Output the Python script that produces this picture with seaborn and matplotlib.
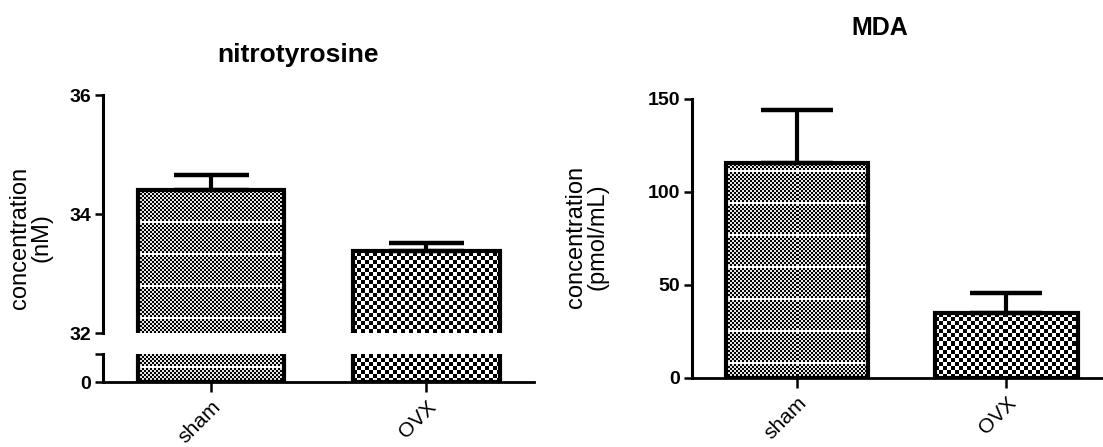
import numpy as np
import pandas as pd
import matplotlib
matplotlib.use("Agg")
import matplotlib.pyplot as plt
import seaborn as sns

# ---- data ----
groups = ["sham", "OVX"]
nitro_mean = [34.40, 33.38]
nitro_sem = [0.26, 0.13]
mda_mean = [115.5, 35.0]
mda_sem = [28.5, 10.7]
nitro_ticks_top = [32, 34, 36]
mda_ticks = [0, 50, 100, 150]

sns.set_style("white")
plt.rcParams["font.family"] = ["Liberation Sans", "DejaVu Sans"]
plt.rcParams["text.color"] = "black"
plt.rcParams["axes.labelcolor"] = "black"

DPI = 100
fig = plt.figure(figsize=(11.03, 4.47), dpi=DPI)
ax_top = fig.add_axes([0.0934, 0.2550, 0.3908, 0.5324])
ax_bot = fig.add_axes([0.0934, 0.1454, 0.3908, 0.0626])
ax_r = fig.add_axes([0.6274, 0.1544, 0.3799, 0.6242])

df_n = pd.DataFrame({"group": groups, "value": nitro_mean})
df_m = pd.DataFrame({"group": groups, "value": mda_mean})

BAR_W = 0.68
EDGE_LW = 3.0
kinds = ["fine", "coarse"]


def texture(kind, h, w):
    yy, xx = np.mgrid[0:h, 0:w]
    if kind == "fine":
        a = ((yy // 2 + xx // 2) % 2).astype(float) * 0.9
        a[(yy % 32) == 14] = 1.0
        a[(yy % 32) == 15] = 1.0
    else:
        a = ((yy // 4 + xx // 4) % 2).astype(float)
    return a


def add_textures(ax):
    ax.set_autoscale_on(False)
    ylo, yhi = ax.get_ylim()
    bars = list(ax.patches)
    for patch, kind in zip(bars, kinds):
        x0 = patch.get_x()
        x1 = x0 + patch.get_width()
        y0 = patch.get_y()
        y1 = y0 + patch.get_height()
        vy0, vy1 = max(y0, ylo), min(y1, yhi)
        if vy1 <= vy0:
            continue
        p0 = ax.transData.transform((x0, vy0))
        p1 = ax.transData.transform((x1, vy1))
        w = max(int(round(abs(p1[0] - p0[0]))), 1)
        h = max(int(round(abs(p1[1] - p0[1]))), 1)
        im = ax.imshow(texture(kind, h, w), extent=(x0, x1, vy0, vy1),
                       origin="lower", cmap="gray", vmin=0, vmax=1,
                       interpolation="nearest", aspect="auto", zorder=1.5)
        im.set_clip_path(patch)
        patch.set_facecolor("none")
        patch.set_zorder(2)


def draw_bars(ax, df):
    sns.barplot(data=df, x="group", y="value", order=groups, ax=ax,
                width=BAR_W, color="white", edgecolor="black",
                linewidth=EDGE_LW, errorbar=None, saturation=1)
    ax.set_xlim(-0.5, len(groups) - 0.5)
    ax.set_xlabel("")
    ax.set_ylabel("")


def style_y(ax):
    ax.tick_params(axis="y", direction="out", length=6, width=1.8,
                   labelsize=14, pad=2.5, left=True, colors="black")
    for t in ax.get_yticklabels():
        t.set_fontweight("bold")


def style_x(ax):
    ax.tick_params(axis="x", direction="out", length=7, width=1.8,
                   labelsize=15, pad=4, bottom=True, colors="black")
    ax.set_xticks(range(len(groups)))
    ax.set_xticklabels(groups, rotation=45, ha="right", va="top",
                       rotation_mode="anchor")


# ---- left: nitrotyrosine (broken axis) ----
draw_bars(ax_top, df_n)
ax_top.set_ylim(32, 36)
ax_top.set_yticks(nitro_ticks_top)
ax_top.set_yticklabels([str(v) for v in nitro_ticks_top])
ax_top.errorbar(np.arange(len(groups)), nitro_mean,
                yerr=[np.zeros(len(groups)), nitro_sem], fmt="none",
                ecolor="black", elinewidth=3, capsize=27, capthick=3.2,
                zorder=3, clip_on=False)
for s in ["top", "right", "bottom"]:
    ax_top.spines[s].set_visible(False)
ax_top.spines["left"].set_linewidth(2.2)
ax_top.spines["left"].set_color("black")
ax_top.tick_params(axis="x", bottom=False, labelbottom=False)
style_y(ax_top)

draw_bars(ax_bot, df_n)
ax_bot.set_ylim(0, 1)
ax_bot.set_yticks([0, 1])
ax_bot.set_yticklabels(["0", ""])
for s in ["top", "right"]:
    ax_bot.spines[s].set_visible(False)
ax_bot.spines["left"].set_linewidth(2.2)
ax_bot.spines["bottom"].set_linewidth(2.0)
for s in ["left", "bottom"]:
    ax_bot.spines[s].set_color("black")
style_y(ax_bot)
style_x(ax_bot)

# ---- right: MDA ----
draw_bars(ax_r, df_m)
ax_r.set_ylim(0, 150)
ax_r.set_yticks(mda_ticks)
ax_r.set_yticklabels([str(v) for v in mda_ticks])
ax_r.errorbar(np.arange(len(groups)), mda_mean,
              yerr=[np.zeros(len(groups)), mda_sem], fmt="none",
              ecolor="black", elinewidth=3, capsize=26, capthick=3.2,
              zorder=3)
for s in ["top", "right"]:
    ax_r.spines[s].set_visible(False)
ax_r.spines["left"].set_linewidth(2.2)
ax_r.spines["bottom"].set_linewidth(2.0)
for s in ["left", "bottom"]:
    ax_r.spines[s].set_color("black")
style_y(ax_r)
style_x(ax_r)

for ax in (ax_top, ax_bot, ax_r):
    ax.set_facecolor("white")
    add_textures(ax)

# ---- titles & labels ----
fig.text(0.2702, 0.861, "nitrotyrosine", ha="center", va="baseline",
         fontsize=19, fontweight="bold", color="black")
fig.text(0.7978, 0.9217, "MDA", ha="center", va="baseline",
         fontsize=18, fontweight="bold", color="black")
fig.text(0.0281, 0.4676, "concentration\n(nM)", rotation=90, ha="center",
         va="center", fontsize=17, linespacing=0.95, multialignment="center",
         color="black")
fig.text(0.5322, 0.4698, "concentration\n(pmol/mL)", rotation=90,
         ha="center", va="center", fontsize=17, linespacing=0.95,
         multialignment="center", color="black")

fig.savefig("out.png", dpi=DPI, facecolor="white")
